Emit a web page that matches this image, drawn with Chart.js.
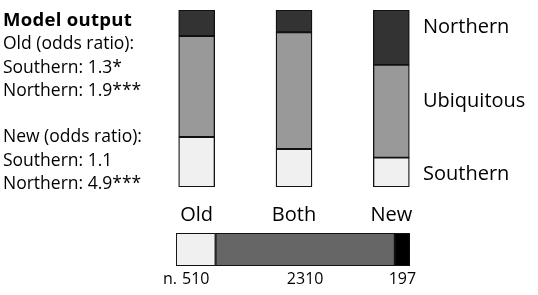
<!DOCTYPE html>
<html>
<head>
<meta charset="utf-8">
<script src="https://cdn.jsdelivr.net/npm/chart.js@4/dist/chart.umd.min.js"></script>
<style>
  html, body { margin: 0; padding: 0; background: #fff; }
  #wrap { position: relative; width: 538px; height: 295px; overflow: hidden; font-family: "Open Sans", sans-serif; color: #000; }
  #wrap canvas { position: absolute; left: 0; top: 0; }
  #notes { position: absolute; left: 3px; top: 7px; font-size: 17.5px; line-height: 23.3px; }
  #notes b { font-weight: 700; font-size: 18.5px; letter-spacing: 0.3px; }
  .side { position: absolute; left: 423px; font-size: 20px; }
</style>
</head>
<body>
<div id="wrap">
  <canvas id="top" width="538" height="295"></canvas>
  <canvas id="bottom" width="538" height="295"></canvas>
  <div id="notes">
    <b>Model output</b><br>
    Old (odds ratio):<br>
    Southern: 1.3*<br>
    Northern: 1.9***<br>
    <br>
    New (odds ratio):<br>
    Southern: 1.1<br>
    Northern: 4.9***
  </div>
  <div class="side" style="top:12px">Northern</div>
  <div class="side" style="top:86px">Ubiquitous</div>
  <div class="side" style="top:159px">Southern</div>
</div>
<script>
// share of each range class (%) per group
const groups = ["Old", "Both", "New"]
const southern = [28.3, 21.5, 16.6]
const ubiquitous = [57.0, 65.9, 52.4]
const northern = [14.7, 12.6, 31.0]

// number of species per group (bottom bar)
const counts = [510, 2310, 197]
const countColors = ["#f0f0f0", "#666666", "#000000"]

const FONT = '"Open Sans", sans-serif'

// category labels under the top bars, placed by the x scale
const groupLabels = {
    id: 'groupLabels',
    afterDraw(chart) {
        const ctx = chart.ctx
        const x = chart.scales.x
        ctx.save()
        ctx.font = '20px ' + FONT
        ctx.fillStyle = '#000'
        ctx.textAlign = 'center'
        ctx.textBaseline = 'middle'
        groups.forEach((g, i) => ctx.fillText(g, x.getPixelForValue(i), 215))
        ctx.restore()
    }
}

// counts under each segment of the bottom bar
const countLabels = {
    id: 'countLabels',
    afterDraw(chart) {
        const ctx = chart.ctx
        ctx.save()
        ctx.font = '16px ' + FONT
        ctx.fillStyle = '#000'
        ctx.textBaseline = 'middle'
        chart.data.datasets.forEach((ds, i) => {
            const bar = chart.getDatasetMeta(i).data[0]
            const cx = (bar.x + bar.base) / 2
            ctx.textAlign = 'center'
            ctx.fillText(String(ds.data[0]), cx, 279)
            if (i === 0) {
                const w = ctx.measureText(String(ds.data[0])).width
                ctx.textAlign = 'right'
                ctx.fillText('n.', cx - w / 2 - 5, 279)
            }
        })
        ctx.restore()
    }
}

const border = { borderColor: '#111', borderWidth: 1.3, borderSkipped: false, barThickness: 36 }

new Chart(document.getElementById('top'), {
    type: 'bar',
    data: {
        labels: groups,
        datasets: [
            { label: 'Southern', data: southern, backgroundColor: '#f0f0f0', ...border },
            { label: 'Ubiquitous', data: ubiquitous, backgroundColor: '#999999', ...border },
            { label: 'Northern', data: northern, backgroundColor: '#333333', ...border }
        ]
    },
    options: {
        responsive: false,
        animation: false,
        layout: { padding: { left: 148, right: 98, top: 10, bottom: 108 } },
        plugins: { legend: { display: false }, tooltip: { enabled: false } },
        scales: {
            x: { stacked: true, display: false },
            y: { stacked: true, display: false, min: 0, max: 100 }
        }
    },
    plugins: [groupLabels]
})

new Chart(document.getElementById('bottom'), {
    type: 'bar',
    data: {
        labels: ['n'],
        datasets: groups.map((g, i) => ({
            label: g,
            data: [counts[i]],
            backgroundColor: countColors[i],
            borderColor: '#111',
            borderWidth: 1.3,
            borderSkipped: false,
            barPercentage: 1,
            categoryPercentage: 1
        }))
    },
    options: {
        indexAxis: 'y',
        responsive: false,
        animation: false,
        layout: { padding: { left: 176, right: 128, top: 233, bottom: 29 } },
        plugins: { legend: { display: false }, tooltip: { enabled: false } },
        scales: {
            x: { stacked: true, display: false, min: 0, max: counts.reduce((a, b) => a + b, 0) },
            y: { stacked: true, display: false }
        }
    },
    plugins: [countLabels]
})
</script>
</body>
</html>
